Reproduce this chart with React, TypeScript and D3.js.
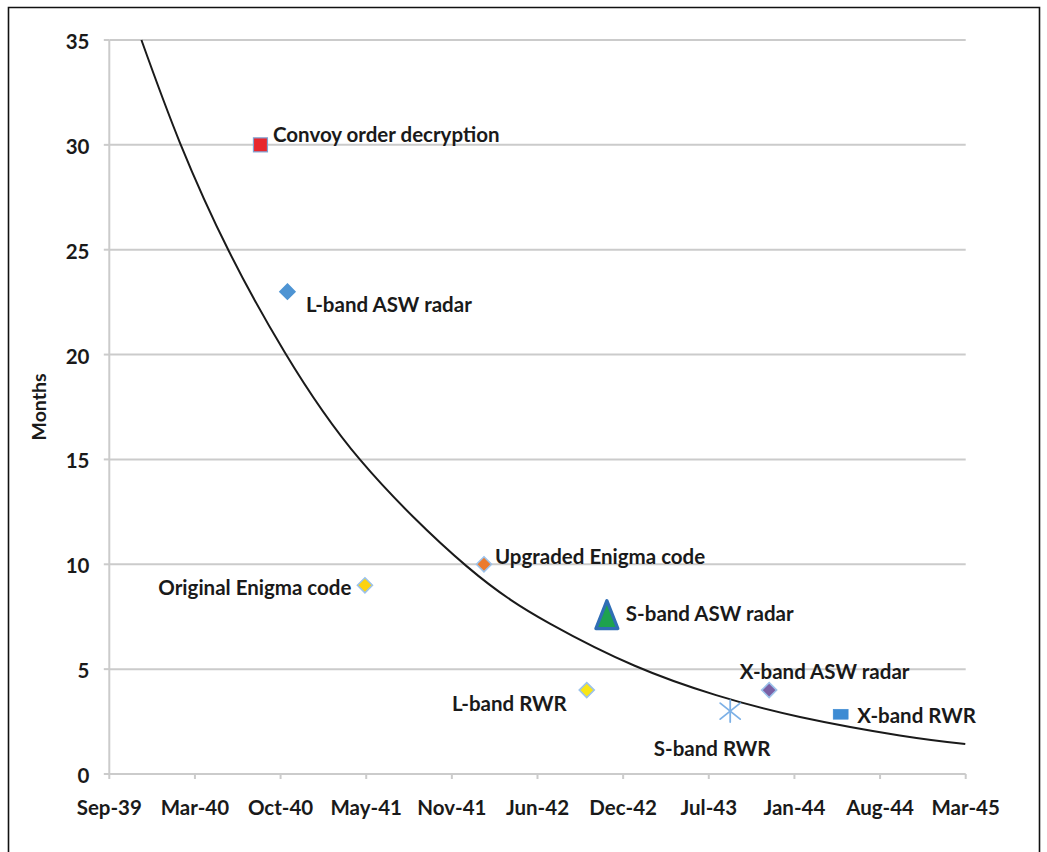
import * as d3 from 'd3';

// axis setup (Excel date axis, 200-day major unit)
const AXIS_START = '1939-09-10';
const AXIS_END = '1945-03-02';
const X_TICK_STEP_DAYS = 200;
const X_TICK_LABELS = ['Sep-39', 'Mar-40', 'Oct-40', 'May-41', 'Nov-41', 'Jun-42', 'Dec-42', 'Jul-43', 'Jan-44', 'Aug-44', 'Mar-45'];
const Y_TICKS = [0, 5, 10, 15, 20, 25, 30, 35];
const Y_TITLE = 'Months';

// scatter points
const EVENT_NAMES = [
  'Convoy order decryption',
  'L-band ASW radar',
  'Original Enigma code',
  'Upgraded Enigma code',
  'S-band ASW radar',
  'L-band RWR',
  'S-band RWR',
  'X-band ASW radar',
  'X-band RWR',
];
const EVENT_DATES = ['1940-08-28', '1940-10-30', '1941-04-29', '1942-02-01', '1942-11-15', '1942-09-29', '1943-08-30', '1943-11-29', '1944-05-14'];
const EVENT_MONTHS = [30, 23, 9, 10, 7.6, 4, 3, 4, 2.85];

// trend line, sampled along the drawn curve
const TREND_DATES = ['1939-11-24', '1940-02-22', '1940-06-16', '1940-10-24', '1941-04-17', '1941-12-23', '1942-07-05', '1943-01-19', '1943-07-28', '1944-02-09', '1944-09-29', '1945-03-01'];
const TREND_MONTHS = [35, 30.1, 24.9, 20.1, 15, 9.9, 7.17, 5.16, 3.76, 2.72, 1.84, 1.43];

type Shape = 'square' | 'diamond' | 'triangle' | 'asterisk' | 'dash';
interface MarkStyle {
  shape: Shape;
  fill: string;
  stroke: string;
  anchor: 'start' | 'middle' | 'end';
  dx: number;
  dy: number;
}

const STYLES: Record<string, MarkStyle> = {
  'Convoy order decryption': { shape: 'square', fill: '#e8262d', stroke: '#7fa3d3', anchor: 'start', dx: 12.5, dy: -3 },
  'L-band ASW radar': { shape: 'diamond', fill: '#4e94d3', stroke: '#4e94d3', anchor: 'start', dx: 18.5, dy: 20 },
  'Original Enigma code': { shape: 'diamond', fill: '#fcd20f', stroke: '#9cc2ea', anchor: 'end', dx: -13.5, dy: 10 },
  'Upgraded Enigma code': { shape: 'diamond', fill: '#ec7a2c', stroke: '#9cc2ea', anchor: 'start', dx: 11, dy: 0 },
  'S-band ASW radar': { shape: 'triangle', fill: '#1ea24f', stroke: '#2f6eb5', anchor: 'start', dx: 19, dy: 6 },
  'L-band RWR': { shape: 'diamond', fill: '#f8e616', stroke: '#9cc2ea', anchor: 'end', dx: -20, dy: 21 },
  'S-band RWR': { shape: 'asterisk', fill: 'none', stroke: '#7cb0e6', anchor: 'middle', dx: -18, dy: 45 },
  'X-band ASW radar': { shape: 'diamond', fill: '#7a5fa4', stroke: '#9cc2ea', anchor: 'start', dx: -29.5, dy: -11 },
  'X-band RWR': { shape: 'dash', fill: '#3d8bd3', stroke: '#3d8bd3', anchor: 'start', dx: 16.5, dy: 9 },
};

const W = 1047;
const H = 852;
const FONT = "Lato, 'Open Sans', sans-serif";
const FS = 20.5;
const GRID = '#cbcbcb';
const TEXT = '#1a1a1a';

const parse = d3.timeParse('%Y-%m-%d');

function Marker({ s }: { s: MarkStyle }) {
  switch (s.shape) {
    case 'square':
      return <rect x={-7} y={-7} width={14} height={14} fill={s.fill} stroke={s.stroke} strokeWidth={1.2} />;
    case 'diamond':
      return <path d="M0,-7.5L7.5,0L0,7.5L-7.5,0Z" fill={s.fill} stroke={s.stroke} strokeWidth={1.6} />;
    case 'triangle':
      return <path d="M0,-14L11,14L-11,14Z" fill={s.fill} stroke={s.stroke} strokeWidth={3.2} strokeLinejoin="round" />;
    case 'asterisk':
      return (
        <g stroke={s.stroke} strokeWidth={1.8} strokeLinecap="round">
          <line x1={-10} y1={-8} x2={10} y2={8} />
          <line x1={-10} y1={8} x2={10} y2={-8} />
          <line x1={0} y1={-11} x2={0} y2={11} />
        </g>
      );
    default:
      return <rect x={-7.5} y={-5} width={15} height={10} fill={s.fill} stroke={s.stroke} strokeWidth={0.5} />;
  }
}

export default function App() {
  const left = 109.3;
  const right = 965.7;
  const top = 40;
  const bottom = 774;

  const x = d3.scaleTime().domain([parse(AXIS_START)!, parse(AXIS_END)!]).range([left, right]);
  const y = d3.scaleLinear().domain([0, 35]).range([bottom, top]);

  const xTicks = X_TICK_LABELS.map((label, i) => ({
    label,
    date: d3.timeDay.offset(parse(AXIS_START)!, i * X_TICK_STEP_DAYS),
  }));

  const points = EVENT_NAMES.map((name, i) => ({
    name,
    date: parse(EVENT_DATES[i])!,
    months: EVENT_MONTHS[i],
  }));

  const trend = TREND_DATES.map((d, i) => [x(parse(d)!), y(TREND_MONTHS[i])] as [number, number]);
  const trendPath = d3.line().curve(d3.curveNatural)(trend) || '';

  return (
    <svg
      width={W}
      height={H}
      style={{ position: 'absolute', left: 0, top: 0, background: '#fff' }}
      fontFamily={FONT}
      fontWeight={700}
    >
      <rect x={0} y={0} width={W} height={H} fill="#fff" />
      {/* outer frame */}
      <path d={`M8.5,${H + 5}V7.5H1039.5V${H + 5}`} fill="none" stroke="#111" strokeWidth={1.6} />

      {/* gridlines */}
      {Y_TICKS.filter((t) => t > 0).map((t) => (
        <line key={t} x1={left} x2={right} y1={y(t)} y2={y(t)} stroke={GRID} strokeWidth={2} />
      ))}

      {/* y axis */}
      <line x1={left} x2={left} y1={top} y2={bottom} stroke={GRID} strokeWidth={2} />
      {Y_TICKS.map((t) => (
        <g key={t}>
          <line x1={left - 5.5} x2={left} y1={y(t)} y2={y(t)} stroke={GRID} strokeWidth={2} />
          <text x={89.5} y={y(t) + 9} textAnchor="end" fontSize={FS} fill={TEXT}>
            {t}
          </text>
        </g>
      ))}
      <text transform="translate(46,407) rotate(-90)" textAnchor="middle" fontSize={19.5} fill={TEXT}>
        {Y_TITLE}
      </text>

      {/* x axis */}
      <line x1={left} x2={right} y1={bottom} y2={bottom} stroke={GRID} strokeWidth={2} />
      {xTicks.map((t) => (
        <g key={t.label}>
          <line x1={x(t.date)} x2={x(t.date)} y1={bottom} y2={bottom + 5} stroke={GRID} strokeWidth={2} />
          <text x={x(t.date)} y={815} textAnchor="middle" fontSize={FS} fill={TEXT}>
            {t.label}
          </text>
        </g>
      ))}

      {/* trend curve */}
      <path d={trendPath} fill="none" stroke="#1a1a1a" strokeWidth={2} />

      {/* markers and labels */}
      {points.map((p) => {
        const s = STYLES[p.name];
        const px = x(p.date);
        const py = y(p.months);
        return (
          <g key={p.name}>
            <g transform={`translate(${px},${py})`}>
              <Marker s={s} />
            </g>
            <text x={px + s.dx} y={py + s.dy} textAnchor={s.anchor} fontSize={FS} fill={TEXT}>
              {p.name}
            </text>
          </g>
        );
      })}
    </svg>
  );
}
